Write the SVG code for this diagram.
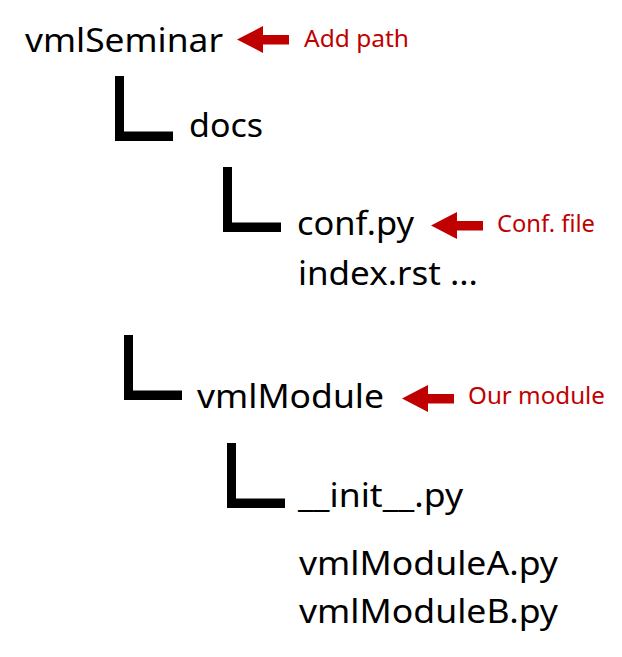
<svg xmlns="http://www.w3.org/2000/svg" width="622" height="657" viewBox="0 0 622 657">
<style>
.t{font-family:"Noto Sans","Open Sans","DejaVu Sans",sans-serif;font-size:32px;fill:#000}
.r{font-family:"Noto Sans","Open Sans","DejaVu Sans",sans-serif;font-size:24px;fill:#C00000}
.el{fill:#000}
.ar{fill:#C00000}
</style>
<defs>
<path id="ell" d="M0,0 h9 v55.5 h49 v9.5 h-58 z"/>
<path id="arw" d="M0,0 L26,-13.5 V-4.5 H52 V5 H26 V13.5 Z"/>
</defs>
<rect width="622" height="657" fill="#fff"/>
<g id="connectors">
<use href="#ell" class="el" x="115" y="76"/>
<use href="#ell" class="el" x="223" y="167"/>
<use href="#ell" class="el" x="124" y="335"/>
<use href="#ell" class="el" x="227" y="443"/>
<use href="#arw" class="ar" x="237" y="39.5"/>
<use href="#arw" class="ar" x="431" y="225.5"/>
<use href="#arw" class="ar" x="402" y="398.5"/>
</g>
<g id="vmlSeminar"><text class="t" x="25" y="52" textLength="198" lengthAdjust="spacingAndGlyphs">vmlSeminar</text></g>
<g id="docs"><text class="t" x="189" y="137" textLength="74" lengthAdjust="spacingAndGlyphs">docs</text></g>
<g id="conf"><text class="t" x="297" y="235" textLength="117" lengthAdjust="spacingAndGlyphs">conf.py</text></g>
<g id="index"><text class="t" x="298" y="285" textLength="180" lengthAdjust="spacingAndGlyphs">index.rst ...</text></g>
<g id="vmlModule"><text class="t" x="197" y="408" textLength="187" lengthAdjust="spacingAndGlyphs">vmlModule</text></g>
<g id="init"><text class="t" x="298" y="507" textLength="165" lengthAdjust="spacingAndGlyphs">__init__.py</text></g>
<g id="vmlModuleA"><text class="t" x="299" y="575" textLength="259" lengthAdjust="spacingAndGlyphs">vmlModuleA.py</text></g>
<g id="vmlModuleB"><text class="t" x="299" y="623" textLength="259" lengthAdjust="spacingAndGlyphs">vmlModuleB.py</text></g>
<g id="label-add-path"><text class="r" x="304" y="47" textLength="105" lengthAdjust="spacingAndGlyphs">Add path</text></g>
<g id="label-conf-file"><text class="r" x="497" y="232" textLength="98" lengthAdjust="spacingAndGlyphs">Conf. file</text></g>
<g id="label-our-module"><text class="r" x="468" y="404" textLength="137" lengthAdjust="spacingAndGlyphs">Our module</text></g>
</svg>
